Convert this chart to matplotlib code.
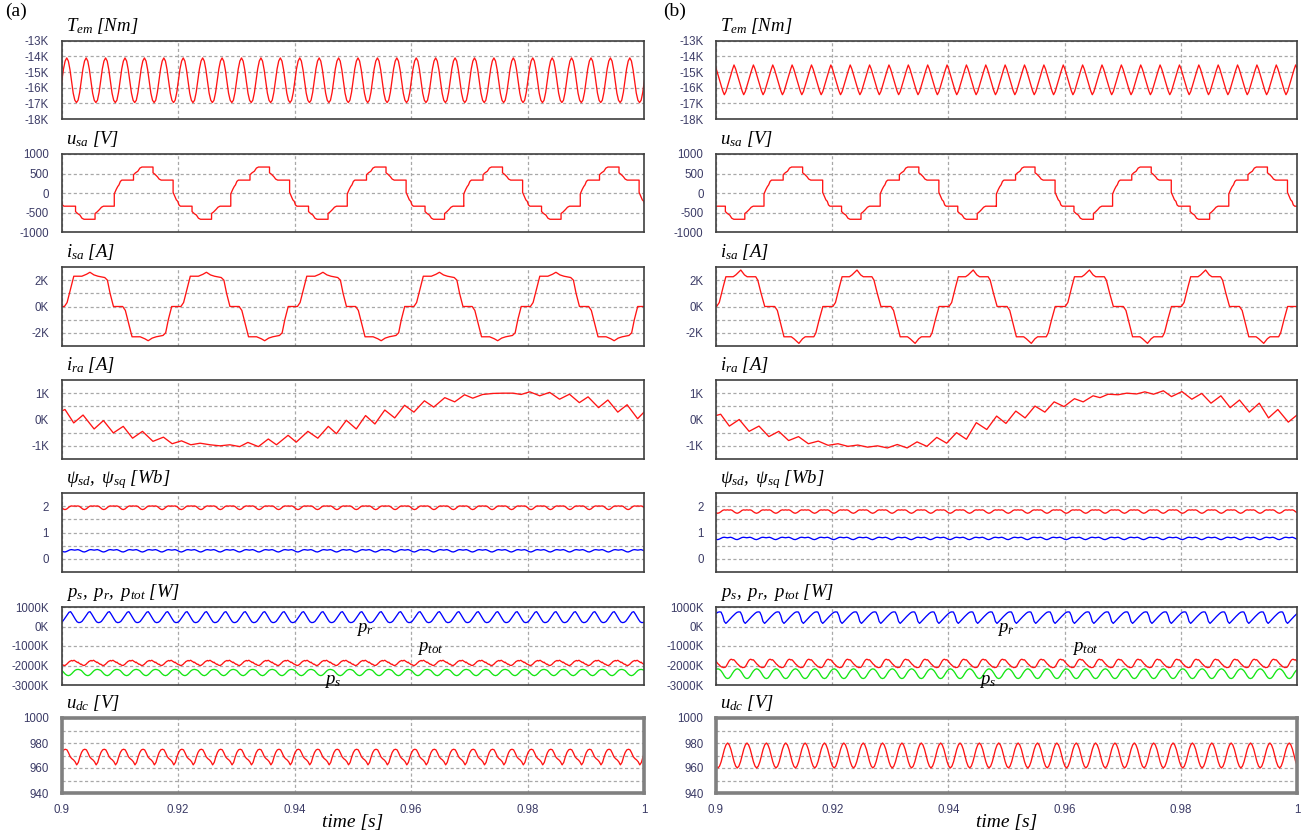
import matplotlib
matplotlib.use("Agg")
import matplotlib.pyplot as plt
import numpy as np

plt.rcParams["font.family"] = ["Liberation Sans", "DejaVu Sans"]
plt.rcParams["mathtext.fontset"] = "custom"
plt.rcParams["mathtext.rm"] = "Liberation Serif:italic"
plt.rcParams["mathtext.it"] = "Liberation Serif:italic"

P = 0.1 / 30   # ripple period, 300 Hz
F = 0.02       # fundamental period, 50 Hz

# --- torque, one ripple period (from a peak) [Nm]
TEM_A = [-14100, -14300, -14850, -15600, -16350, -16800, -16950, -16800, -16300, -15550, -14800, -14300]
TEM_B = [-14550, -14800, -15150, -15500, -15850, -16200, -16450, -16250, -15900, -15550, -15200, -14850]
TEM_T0 = [0.9009 - P, 0.9031 - P]

# --- stator voltage, one fundamental period (ms, V) starting at the jump up
USA_PHASE = [0, 0, 0.35, 0.6, 0.8, 1.05, 1.3, 3.3, 3.3, 3.65, 4.05, 4.4, 4.75,
             6.65, 6.65, 7.0, 7.4, 7.7, 8.05, 10.1, 10.1, 10.45, 10.65, 10.9, 11.1, 11.35,
             13.35, 13.35, 13.7, 14.1, 14.45, 14.8, 16.7, 16.7, 17.05, 17.45, 17.8, 18.15, 20.0]
USA = [-333, -20, 100, 170, 210, 300, 333, 333, 470, 520, 560, 640, 667,
       667, 520, 480, 420, 360, 333, 333, 20, -100, -170, -210, -300, -333,
       -333, -470, -520, -560, -640, -667, -667, -520, -480, -420, -360, -333, -333]
USA_T0 = [0.90906 - F, 0.90826 - F]

# --- stator current, one fundamental period (ms, A) starting where it leaves zero
ISA_A_PHASE = [0, 0.46, 1.15, 1.61, 3.0, 3.8, 4.38, 5.07, 5.76, 6.92, 7.38, 7.84, 8.42,
               10.0, 10.46, 11.15, 11.61, 13.0, 13.8, 14.38, 15.07, 15.76, 16.92, 17.38, 17.84, 18.42]
ISA_A = [0, 300, 1500, 2300, 2300, 2450, 2600, 2400, 2300, 2200, 2000, 1000, 0,
         0, -300, -1500, -2300, -2300, -2450, -2600, -2400, -2300, -2200, -2000, -1000, 0]
ISA_B_PHASE = [0, 0.46, 1.14, 1.6, 2.86, 3.31, 4.17, 4.8, 5.26, 6.74, 7.09, 7.66, 8.29,
               10.0, 10.46, 11.14, 11.6, 12.86, 13.31, 14.17, 14.8, 15.26, 16.74, 17.09, 17.66, 18.29]
ISA_B = [0, 300, 1500, 2260, 2260, 2400, 2770, 2400, 2260, 2260, 2000, 1000, 0,
         0, -300, -1500, -2300, -2300, -2450, -2800, -2450, -2300, -2300, -2000, -1000, 0]
ISA_T0 = [0.9005 - F, 0.9001 - F]

# --- rotor current, read point by point (peaks and troughs of the ripple) [s, A]
IRA_A_T = [0.9000, 0.9006, 0.9021, 0.9037, 0.9056, 0.9072, 0.9089, 0.9106, 0.9122, 0.9139,
           0.9157, 0.9175, 0.9190, 0.9206, 0.9222, 0.9238, 0.9255, 0.9272, 0.9289, 0.9306,
           0.9320, 0.9338, 0.9355, 0.9369, 0.9389, 0.9403, 0.9423, 0.9440, 0.9458, 0.9472,
           0.9489, 0.9506, 0.9522, 0.9538, 0.9555, 0.9572, 0.9589, 0.9605, 0.9623, 0.9639,
           0.9658, 0.9675, 0.9692, 0.9706, 0.9723, 0.9741, 0.9758, 0.9775, 0.9789, 0.9804,
           0.9821, 0.9838, 0.9855, 0.9872, 0.9889, 0.9904, 0.9922, 0.9938, 0.9955, 0.9971,
           0.9989, 1.0000]
IRA_A = [320, 380, -130, 170, -360, -40, -510, -260, -710, -450,
         -830, -670, -920, -810, -960, -900, -960, -1000, -960, -1030,
         -870, -1030, -740, -960, -600, -860, -450, -710, -260, -540,
         -30, -360, 150, -170, 360, 60, 540, 280, 710, 470,
         830, 670, 940, 810, 950, 990, 1000, 1000, 950, 1050,
         900, 1030, 770, 960, 640, 860, 450, 740, 280, 560,
         30, 280]
IRA_B_T = [0.9000, 0.9008, 0.9023, 0.9040, 0.9057, 0.9074, 0.9091, 0.9108, 0.9125, 0.9142,
           0.9159, 0.9176, 0.9193, 0.9210, 0.9227, 0.9244, 0.9261, 0.9278, 0.9295, 0.9312,
           0.9329, 0.9346, 0.9363, 0.9380, 0.9397, 0.9414, 0.9431, 0.9448, 0.9466, 0.9483,
           0.9499, 0.9516, 0.9532, 0.9549, 0.9566, 0.9582, 0.9599, 0.9617, 0.9632, 0.9649,
           0.9661, 0.9675, 0.9692, 0.9707, 0.9724, 0.9738, 0.9753, 0.9770, 0.9784, 0.9802,
           0.9819, 0.9836, 0.9852, 0.9869, 0.9885, 0.9901, 0.9918, 0.9935, 0.9951, 0.9967,
           0.9985, 1.0000]
IRA_B = [150, 200, -250, 0, -450, -250, -650, -450, -800, -650,
         -920, -820, -980, -920, -1020, -970, -1050, -1000, -1080, -950,
         -1080, -850, -1020, -680, -900, -500, -750, -120, -380, 130,
         -150, 320, 60, 510, 280, 670, 490, 790, 670, 900,
         830, 960, 940, 1000, 970, 1050, 960, 1090, 870, 1060,
         770, 990, 620, 900, 450, 740, 280, 620, 60, 380,
         -100, 170]

# --- stator flux d/q, one ripple period (from a trough) [Wb]
PSID_A = [1.87, 1.89, 1.94, 1.99, 2.01, 2.00, 2.01, 2.00, 2.01, 1.99, 1.94, 1.89]
PSIQ_A = [0.26, 0.28, 0.31, 0.34, 0.35, 0.34, 0.33, 0.34, 0.35, 0.33, 0.30, 0.27]
PSID_B = [1.73, 1.75, 1.79, 1.84, 1.86, 1.85, 1.86, 1.85, 1.86, 1.84, 1.79, 1.75]
PSIQ_B = [0.73, 0.75, 0.78, 0.81, 0.82, 0.81, 0.80, 0.81, 0.82, 0.80, 0.77, 0.74]
PSI_T0 = [0.9006 - P, 0.9003 - P]

# --- powers, one ripple period (from a trough) [W]
PR_A = [210e3, 260e3, 370e3, 490e3, 610e3, 730e3, 760e3, 640e3, 500e3, 360e3, 240e3, 200e3]
PS_A = [-2520e3, -2490e3, -2420e3, -2330e3, -2250e3, -2210e3, -2200e3, -2220e3, -2260e3,
        -2350e3, -2440e3, -2500e3]
PTOT_A = [-2000e3, -1990e3, -1960e3, -1930e3, -1880e3, -1850e3, -1800e3, -1780e3, -1760e3,
          -1740e3, -1770e3, -1750e3, -1730e3, -1760e3, -1790e3, -1810e3, -1850e3, -1830e3,
          -1880e3, -1900e3, -1940e3, -1930e3, -1970e3, -1990e3]
PR_B = [160e3, 240e3, 330e3, 420e3, 510e3, 590e3, 670e3, 730e3, 750e3, 740e3, 560e3, 260e3]
PS_B = [-2670e3, -2640e3, -2540e3, -2400e3, -2280e3, -2200e3, -2170e3, -2200e3, -2280e3,
        -2400e3, -2540e3, -2640e3]
PTOT_B = [-2100e3, -2080e3, -2030e3, -1960e3, -1880e3, -1800e3, -1740e3, -1700e3, -1680e3,
          -1690e3, -1720e3, -1700e3, -1730e3, -1780e3, -1830e3, -1880e3, -1930e3, -1960e3,
          -2010e3, -2040e3, -2080e3, -2070e3, -2110e3, -2100e3]
PR_T0 = [0.8999 - P, 0.9017 - P]
PS_T0 = [0.9012 - P, 0.9020 - P]
PTOT_T0 = [0.9005 - P, 0.9015 - P]

# --- dc link voltage, one ripple period (from a peak) [V]
UDC_A = [975, 974.5, 972, 969, 967.5, 966.5, 965, 962.5, 964.5, 969, 972.5, 974.5]
UDC_B = [980, 978.5, 975, 970, 965, 961.5, 960, 961.5, 965, 970, 975, 978.5]
UDC_T0 = [0.9040 - 2 * P, 0.9020 - P]

XTICKS = [0.9, 0.92, 0.94, 0.96, 0.98, 1.0]
XTICKLABELS = ["0.9", "0.92", "0.94", "0.96", "0.98", "1"]

RED, BLUE, GREEN = "#ff1414", "#0000ff", "#14e614"
TICKCOL = "#3b3b66"
SERIF = "Liberation Serif"

W, H = 1306, 834
COLS_PX = [(61.5, 644), (716, 1297)]
ROWS_PX = [(40.7, 119), (154, 232.3), (267, 346), (380, 459), (493, 572), (607, 685), (718, 793)]


def ripple(cycle, t_first, n=33):
    k = len(cycle)
    t = t_first + np.arange(k * n) * P / k
    return t, np.tile(cycle, n)


def fundamental(phase_ms, cycle, t_first, n=7):
    t = np.concatenate([t_first + i * F + np.asarray(phase_ms) / 1000 for i in range(n)])
    return t, np.tile(cycle, n)


ROWS = [
    dict(title=r"$T_{em}\ [Nm]$", ylim=(-18000, -13000),
         yt=[-13000, -14000, -15000, -16000, -17000, -18000],
         yl=["-13K", "-14K", "-15K", "-16K", "-17K", "-18K"], ym=[]),
    dict(title=r"$u_{sa}\ [V]$", ylim=(-1000, 1000),
         yt=[1000, 500, 0, -500, -1000], yl=["1000", "500", "0", "-500", "-1000"], ym=[]),
    dict(title=r"$i_{sa}\ [A]$", ylim=(-3000, 3000),
         yt=[2000, 0, -2000], yl=["2K", "0K", "-2K"], ym=[1000, -1000]),
    dict(title=r"$i_{ra}\ [A]$", ylim=(-1500, 1500),
         yt=[1000, 0, -1000], yl=["1K", "0K", "-1K"], ym=[500, -500]),
    dict(title=r"$\psi_{sd},\ \psi_{sq}\ [Wb]$", ylim=(-0.5, 2.5),
         yt=[2, 1, 0], yl=["2", "1", "0"], ym=[1.5, 0.5]),
    dict(title=r"$p_{s},\ p_{r},\ p_{tot}\ [W]$", ylim=(-3000e3, 1000e3),
         yt=[1000e3, 0, -1000e3, -2000e3, -3000e3],
         yl=["1000K", "0K", "-1000K", "-2000K", "-3000K"], ym=[]),
    dict(title=r"$u_{dc}\ [V]$", ylim=(940, 1000),
         yt=[1000, 980, 960, 940], yl=["1000", "980", "960", "940"], ym=[990, 970, 950]),
]

fig = plt.figure(figsize=(W / 100, H / 100), dpi=100)

for c, (x0, x1) in enumerate(COLS_PX):
    axes = []
    for r, (y0, y1) in enumerate(ROWS_PX):
        ax = fig.add_axes([x0 / W, 1 - y1 / H, (x1 - x0) / W, (y1 - y0) / H])
        spec = ROWS[r]
        ax.set_xlim(0.9, 1.0)
        ax.set_ylim(*spec["ylim"])
        ax.set_xticks(XTICKS)
        ax.set_yticks(spec["yt"], spec["yl"])
        ax.set_yticks(spec["ym"], minor=True)
        ax.set_axisbelow(True)
        ax.grid(True, which="both", ls=(0, (2.5, 2)), color="#a8a8a8", lw=0.9)
        ax.tick_params(which="both", length=0, labelsize=8.3, labelcolor=TICKCOL, pad=9)
        if r < 6:
            ax.tick_params(labelbottom=False)
            for s in ax.spines.values():
                s.set_color("#404040")
                s.set_linewidth(1.2)
        else:
            ax.set_xticklabels(XTICKLABELS)
            ax.tick_params(axis="x", pad=8)
            for s in ax.spines.values():
                s.set_color("#808080")
                s.set_linewidth(2.6)
        h = y1 - y0
        ax.text(4 / (x1 - x0), 1 + 10 / h, spec["title"], transform=ax.transAxes,
                fontsize=13.5, va="baseline", ha="left")
        axes.append(ax)

    a = c == 0
    kw = dict(lw=0.95)
    axes[0].plot(*ripple(TEM_A if a else TEM_B, TEM_T0[c]), color=RED, **kw)
    axes[1].plot(*fundamental(USA_PHASE, USA, USA_T0[c]), color=RED, **kw)
    axes[2].plot(*fundamental(ISA_A_PHASE if a else ISA_B_PHASE, ISA_A if a else ISA_B,
                              ISA_T0[c]), color=RED, **kw)
    axes[3].plot(IRA_A_T if a else IRA_B_T, IRA_A if a else IRA_B, color=RED, **kw)
    axes[4].plot(*ripple(PSID_A if a else PSID_B, PSI_T0[c]), color=RED, **kw)
    axes[4].plot(*ripple(PSIQ_A if a else PSIQ_B, PSI_T0[c]), color=BLUE, **kw)
    axes[5].plot(*ripple(PR_A if a else PR_B, PR_T0[c]), color=BLUE, **kw)
    axes[5].plot(*ripple(PTOT_A if a else PTOT_B, PTOT_T0[c]), color=RED, **kw)
    axes[5].plot(*ripple(PS_A if a else PS_B, PS_T0[c]), color=GREEN, **kw)
    axes[6].plot(*ripple(UDC_A if a else UDC_B, UDC_T0[c]), color=RED, **kw)

    # trace names inside the power panel
    lab = dict(fontsize=13.5, ha="center", va="center", clip_on=False)
    axes[5].text(0.9521 if a else 0.9499, -160e3, r"$p_r$", **lab)
    axes[5].text(0.9633 if a else 0.9635, -1120e3, r"$p_{tot}$", **lab)
    axes[5].text(0.9466 if a else 0.9468, -2800e3, r"$p_s$", **lab)

    axes[6].text(0.5, -0.39, "time [s]", transform=axes[6].transAxes, ha="center",
                 va="center", fontsize=14, family=SERIF, style="italic")

fig.text(5 / W, 1 - 3 / H, "(a)", family=SERIF, fontsize=14, va="top", ha="left")
fig.text(663 / W, 1 - 3 / H, "(b)", family=SERIF, fontsize=14, va="top", ha="left")

fig.savefig("out.png", dpi=100)
